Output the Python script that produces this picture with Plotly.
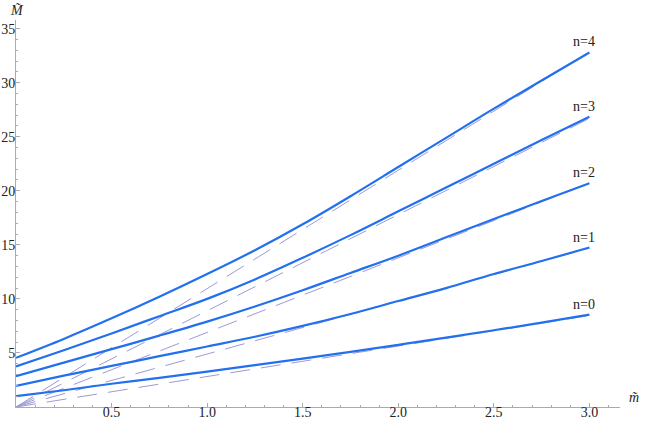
import plotly.graph_objects as go

m_vals = [0, 0.25, 0.5, 0.75, 1.0, 1.25, 1.5, 1.75, 2.0, 2.25, 2.5, 2.75, 3.0]
M_n0 = [1.0, 1.55, 2.15, 2.7, 3.27, 3.87, 4.48, 5.1, 5.75, 6.42, 7.1, 7.8, 8.55]
M_n1 = [1.95, 2.9, 3.8, 4.7, 5.6, 6.5, 7.5, 8.6, 9.8, 11.0, 12.3, 13.5, 14.75]
M_n2 = [2.85, 4.1, 5.35, 6.6, 7.9, 9.3, 10.8, 12.4, 14.0, 15.7, 17.4, 19.05, 20.7]
M_n3 = [3.75, 5.25, 6.8, 8.4, 10.0, 11.8, 13.8, 15.9, 18.1, 20.3, 22.5, 24.7, 26.85]
M_n4 = [4.55, 6.3, 8.2, 10.2, 12.3, 14.5, 16.9, 19.5, 22.2, 24.9, 27.6, 30.2, 32.8]
series = [M_n0, M_n1, M_n2, M_n3, M_n4]
labels = ["n=0", "n=1", "n=2", "n=3", "n=4"]
asym_slopes = [2.82, 4.9, 6.9, 8.9, 10.95]
asym_x = [0, 3.0]

x_ticks = [0.5, 1.0, 1.5, 2.0, 2.5, 3.0]
y_ticks = [5, 10, 15, 20, 25, 30, 35]

curve_color = "#2270f0"
dash_color = "#9d9ad4"
axis_color = "#ababab"
font_family = "Liberation Serif, Times New Roman, serif"

fig = go.Figure()

for s in asym_slopes:
    fig.add_trace(go.Scatter(x=asym_x, y=[s * v for v in asym_x], mode="lines",
                             line=dict(color=dash_color, width=1, dash="20px,11px"),
                             showlegend=False, hoverinfo="skip"))

for ys, lab in zip(series, labels):
    fig.add_trace(go.Scatter(x=m_vals, y=ys, mode="lines",
                             line=dict(color=curve_color, width=2.2, shape="spline"),
                             showlegend=False, name=lab))
    fig.add_annotation(x=m_vals[-1], y=ys[-1], text=lab, showarrow=False,
                       xanchor="center", yanchor="bottom", yshift=1, xshift=-5,
                       font=dict(family=font_family, size=14, color="#222"))

fig.add_annotation(x=0, y=1, xref="paper", yref="paper", text="<i>M̃</i>",
                   showarrow=False, xanchor="center", yanchor="bottom", yshift=0, xshift=1,
                   font=dict(family=font_family, size=14, color="#222"))
fig.add_annotation(x=1, y=0, xref="paper", yref="paper", text="<i>m̃</i>",
                   showarrow=False, xanchor="left", yanchor="middle", xshift=7, yshift=10,
                   font=dict(family=font_family, size=14, color="#222"))

fig.update_layout(
    width=654, height=423,
    margin=dict(l=16, t=20, r=34, b=16),
    plot_bgcolor="white", paper_bgcolor="white",
    font=dict(family=font_family, size=14, color="#222"),
    xaxis=dict(range=[0, 3.16], showgrid=False, zeroline=False, showline=True,
               linecolor=axis_color, linewidth=1, ticks="inside", ticklen=4,
               tickcolor=axis_color, tickvals=x_ticks, tickformat=".1f",
               tickfont=dict(family=font_family, size=14, color="#222"),
               ticklabelstandoff=-8,
               minor=dict(ticks="inside", ticklen=2, dtick=0.1, tick0=0, tickcolor=axis_color),
               automargin=False),
    yaxis=dict(range=[0, 35.8], showgrid=False, zeroline=False, showline=True,
               linecolor=axis_color, linewidth=1, ticks="inside", ticklen=4,
               tickcolor=axis_color, tickvals=y_ticks,
               tickfont=dict(family=font_family, size=14, color="#222"),
               ticklabelstandoff=-3,
               minor=dict(ticks="inside", ticklen=2, dtick=1, tick0=0, tickcolor=axis_color),
               automargin=False),
)

fig.write_html("out.html", config={"displayModeBar": False},
               post_script="document.body.style.margin='0';")
